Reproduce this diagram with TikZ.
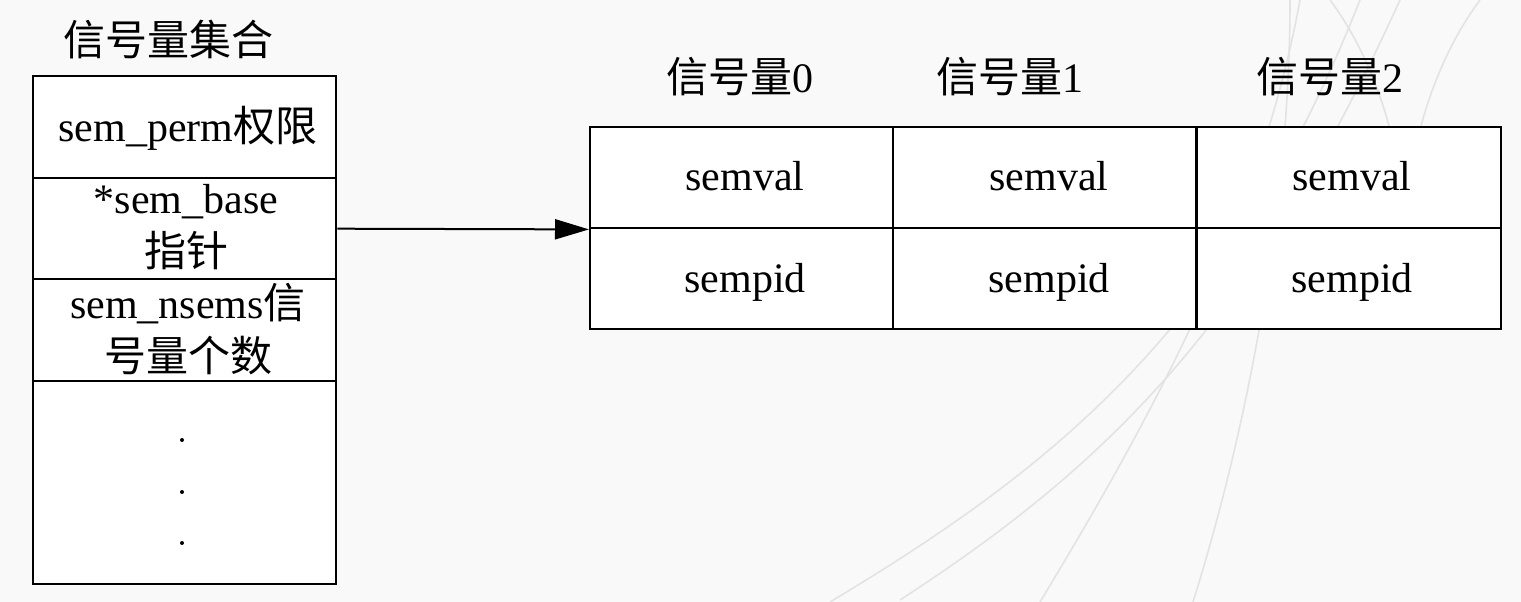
\documentclass[tikz,border=0pt]{standalone}
\usepackage{fontspec}
\setmainfont{Liberation Serif}
\newfontfamily\cjk{Noto Sans CJK SC}
\usetikzlibrary{arrows.meta}
\begin{document}
\begin{tikzpicture}[x=1pt,y=-1pt,
  txt/.style={font=\fontsize{42}{53}\selectfont, align=center, inner sep=0pt},
  cell/.style={draw=black, line width=2.4pt, fill=white, minimum width=303pt, minimum height=101pt, inner sep=0pt, anchor=north west},
  bgline/.style={draw=gray!22, line width=1.6pt}]
\useasboundingbox (0,0) rectangle (1521,602);
\fill[gray!5] (0,0) rectangle (1521,602);
% faint background curves
\draw[bgline] (830,602) .. controls (1050,470) and (1230,330) .. (1360,0);
\draw[bgline] (900,600) .. controls (1100,470) and (1250,330) .. (1400,0);
\draw[bgline] (1040,602) .. controls (1150,420) and (1260,220) .. (1300,0);
\draw[bgline] (1193,602) .. controls (1250,420) and (1290,200) .. (1290,0);
\draw[bgline] (1330,0) .. controls (1360,40) and (1380,90) .. (1390,130);
\draw[bgline] (1480,0) .. controls (1450,40) and (1430,90) .. (1420,130);
% left column
\node[txt] (title) at (168,40) {\cjk 信号量集合};
\node[cell, minimum height=102pt] (perm) at (32,75) {};
\node[cell] (base) at (32,177) {};
\node[cell, minimum height=102pt] (nsems) at (32,278) {};
\node[cell, minimum height=203pt] (more) at (32,380) {};
\node[txt] (tperm) at (188,128) {sem\_perm{\cjk 权限}};
\node[txt] (tbase) at (186,227) {*sem\_base\\{\cjk 指针}};
\node[txt] (tnsems) at (188,329) {sem\_nsems{\cjk 信}\\{\cjk 号量个数}};
\fill (182,440) circle (2pt);
\fill (182,492) circle (2pt);
\fill (182,543) circle (2pt);
% right table
\node[txt] (h0) at (740,77) {{\cjk 信号量}0};
\node[txt] (h1) at (1010,77) {{\cjk 信号量}1};
\node[txt] (h2) at (1330,77) {{\cjk 信号量}2};
\node[cell] (v0) at (589,126) {};
\node[cell] (v1) at (892,126) {};
\node[cell, minimum width=304pt] (v2) at (1196,126) {};
\node[cell] (p0) at (589,227) {};
\node[cell] (p1) at (892,227) {};
\node[cell, minimum width=304pt] (p2) at (1196,227) {};
\node[txt, anchor=base] at (745,190) {semval};
\node[txt, anchor=base] at (1049,190) {semval};
\node[txt, anchor=base] at (1352,190) {semval};
\node[txt, anchor=base] at (745,292) {sempid};
\node[txt, anchor=base] at (1049,292) {sempid};
\node[txt, anchor=base] at (1352,292) {sempid};
% arrow
\draw[line width=2pt, -{Triangle[length=34pt,width=20pt]}] (base.east) -- (v0.south west);
\end{tikzpicture}
\end{document}
